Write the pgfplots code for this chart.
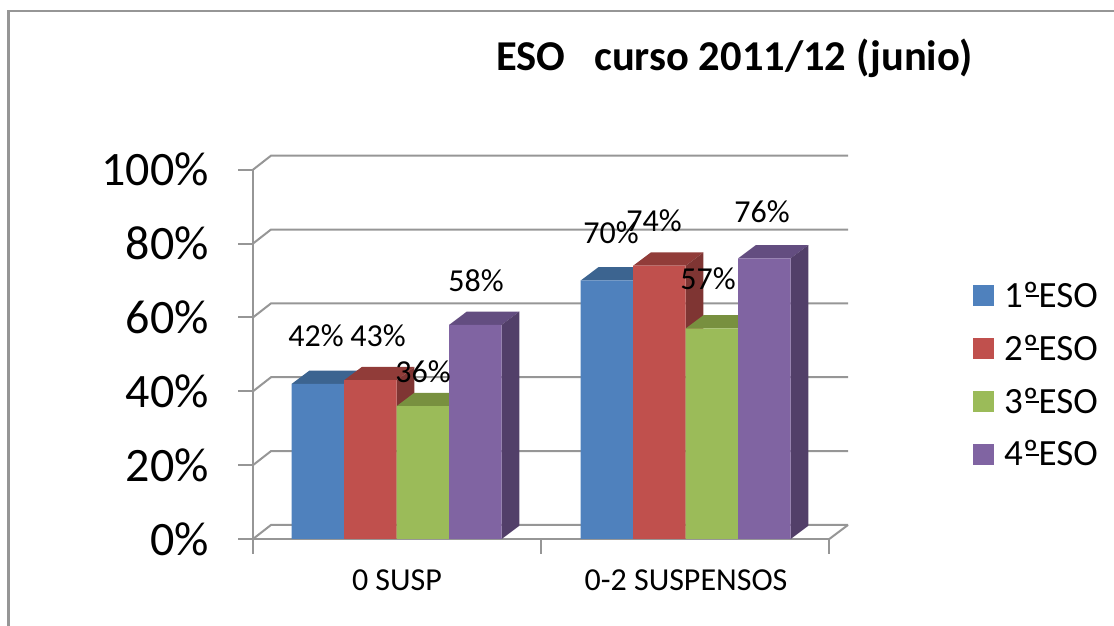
\documentclass[border=0pt]{standalone}
\usepackage{fontspec}
\setmainfont{Carlito}
\usepackage{pgfplots}
\pgfplotsset{compat=1.18}
\definecolor{bluef}{HTML}{4F81BD}\definecolor{bluet}{HTML}{3C6490}
\definecolor{redf}{HTML}{C0504D}\definecolor{redt}{HTML}{913C39}\definecolor{reds}{HTML}{7F3533}
\definecolor{greenf}{HTML}{9BBB59}\definecolor{greent}{HTML}{78903F}\definecolor{greens}{HTML}{66793A}
\definecolor{purplef}{HTML}{8064A2}\definecolor{purplet}{HTML}{634D80}\definecolor{purples}{HTML}{523F69}
\definecolor{ax}{HTML}{969696}
\newcommand\oo{º\llap{\rule[0.27em]{0.34em}{0.055em}}}
\pgfplotsset{fr/.style={ybar,bar width=52.5,bar shift=0pt,draw=none,fill=#1,
  legend image code/.code={\fill[#1,draw=none] (0pt,-10.5pt) rectangle (21pt,10.5pt);}}}
\newcommand\solid[4]{%
 \pgfmathsetmacro\xa{#1+52.5}\pgfmathsetmacro\xb{#1+17.7}\pgfmathsetmacro\xc{#1+70.2}\pgfmathsetmacro\vb{#2+3.6}%
 \addplot[forget plot,fill=#3,draw=none] coordinates {(#1,#2)(\xb,\vb)(\xc,\vb)(\xa,#2)} --cycle;
 \addplot[forget plot,fill=#4,draw=none] coordinates {(\xa,0)(\xc,3.6)(\xc,\vb)(\xa,#2)} --cycle;
}
\newcommand\wall[1]{%
 \pgfmathsetmacro\vb{#1+3.8}%
 \addplot[forget plot,ax,line width=2pt,no marks] coordinates {(253,#1)(271,\vb)(848,\vb)};
}
\begin{document}
\begin{tikzpicture}[x=1pt,y=1pt]
\useasboundingbox (0,0) rectangle (1114,626);
\draw[ax,line width=2.5pt] (8.5,0) -- (8.5,615) -- (1114,615);
\begin{axis}[
 at={(253pt,87pt)},anchor=south west,scale only axis,
 width=576.3pt,height=369.3pt,
 xmin=253,xmax=829.3,ymin=0,ymax=100,clip=false,
 axis x line=bottom,axis y line=left,
 axis line style={-,ax,line width=2pt},
 tick style={ax,line width=2pt},
 tick align=outside,
 ytick={0,20,40,60,80,100},
 yticklabels={0\%,20\%,40\%,60\%,80\%,100\%},
 yticklabel style={font=\fontsize{48}{48}\selectfont,inner sep=0pt,xshift=-29pt},
 xtick={253,541,829.3},xticklabels={,,},
 extra x ticks={397,686},
 extra x tick labels={0 SUSP,0-2 SUSPENSOS},
 extra x tick style={major tick length=0pt,
   xticklabel style={font=\fontsize{32}{32}\selectfont,inner sep=0pt,yshift=-31pt}},
 major tick length=15pt,
 legend style={at={(axis cs:973,69.7)},anchor=north west,draw=none,fill=none,inner sep=0pt,
   font=\fontsize{37}{37}\selectfont,row sep=26.2pt,
   nodes={inner sep=0pt},
   /tikz/every odd column/.append style={column sep=10pt}},
 legend cell align=left,
 no marks,
]
\wall{0}\wall{20}\wall{40}\wall{60}\wall{80}\wall{100}
\addplot[forget plot,ax,line width=2pt] coordinates {(829.3,0)(848,3.8)};
\solid{291.7}{42}{bluet}{bluet}\solid{580.7}{70}{bluet}{bluet}
\addplot[fr=bluef] coordinates {(317.95,42)(606.95,70)};
\addlegendentry{1\oo ESO}
\solid{344.2}{43}{redt}{reds}\solid{633.2}{74}{redt}{reds}
\addplot[fr=redf] coordinates {(370.45,43)(659.45,74)};
\addlegendentry{2\oo ESO}
\solid{396.7}{36}{greent}{greens}\solid{685.7}{57}{greent}{greens}
\addplot[fr=greenf] coordinates {(422.95,36)(711.95,57)};
\addlegendentry{3\oo ESO}
\solid{449.2}{58}{purplet}{purples}\solid{738.2}{76}{purplet}{purples}
\addplot[fr=purplef] coordinates {(475.45,58)(764.45,76)};
\addlegendentry{4\oo ESO}
\begin{scope}[every node/.style={font=\fontsize{32}{32}\selectfont,inner sep=0pt}]
\node at (axis cs:316,55) {42\%};
\node at (axis cs:378,55) {43\%};
\node at (axis cs:423,45.2) {36\%};
\node at (axis cs:476,69.9) {58\%};
\node at (axis cs:611,82.9) {70\%};
\node at (axis cs:654,86.1) {74\%};
\node at (axis cs:708,70.4) {57\%};
\node at (axis cs:762,88.6) {76\%};
\end{scope}
\end{axis}
\node[font=\bfseries\fontsize{42.5}{42.5}\selectfont,inner sep=0pt,anchor=center] at (734.5,568) {ESO\ \ \ curso 2011/12 (junio)};
\end{tikzpicture}
\end{document}
